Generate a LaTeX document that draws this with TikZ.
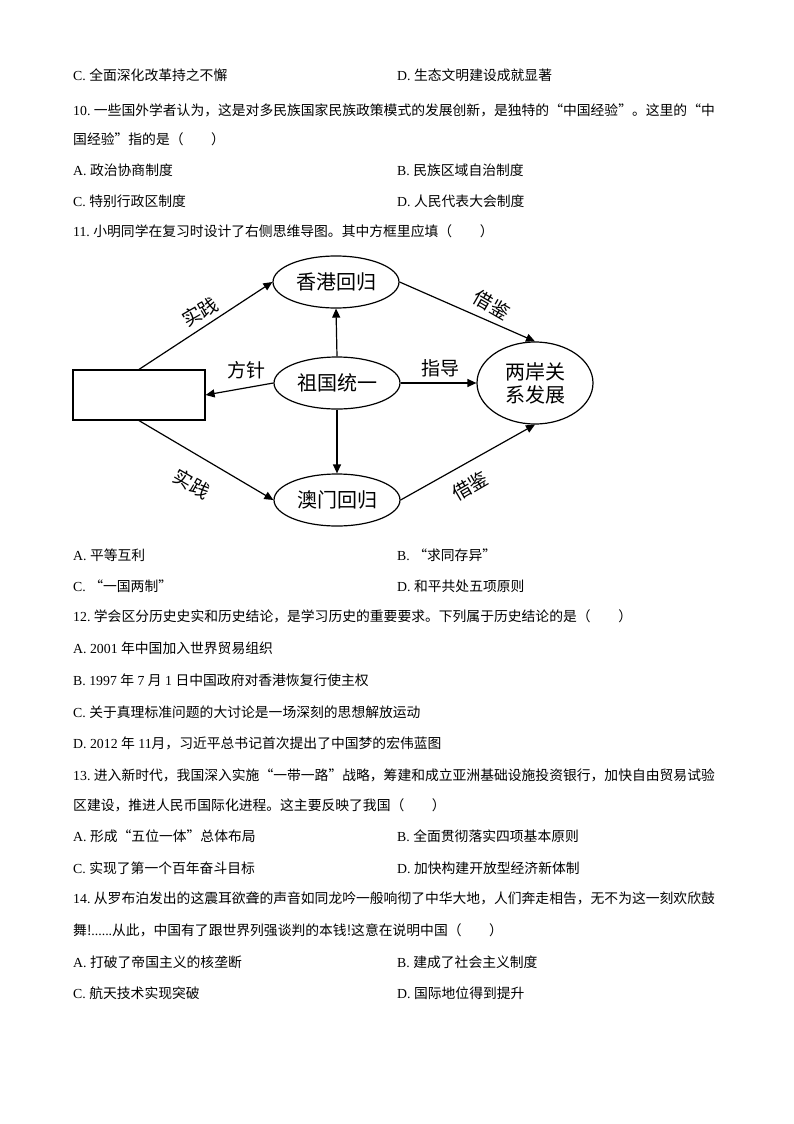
\documentclass[tikz,border=0pt]{standalone}
\usepackage{fontspec}
\setmainfont{Liberation Serif}
\newfontfamily\cjk{Noto Sans CJK SC}
\usetikzlibrary{shapes.geometric,arrows.meta}
\begin{document}
\begin{tikzpicture}[x=1pt,y=-1pt,
  txt/.style={anchor=west,inner sep=0pt,font=\fontsize{13.8}{15}\selectfont},
  el/.style={draw,ellipse,line width=1.2pt,minimum width=126pt,minimum height=52pt,inner sep=0pt,font=\cjk\fontsize{20}{23}\selectfont},
  lab/.style={font=\cjk\fontsize{19}{20}\selectfont,inner sep=0pt},
  arr/.style={-{Triangle[length=9pt,width=8pt]},line width=1.2pt}]
\useasboundingbox (0,0) rectangle (794,1124);
\fill[white] (0,0) rectangle (794,1124);
\node[txt] (t1) at (73,75) {C.\ {\cjk 全面深化改革持之不懈}};
\node[txt] (t1b) at (397,75) {D.\ {\cjk 生态文明建设成就显著}};
\node[txt] (t2) at (73,110) {10.\ {\cjk 一些国外学者认为，这是对多民族国家民族政策模式的发展创新，是独特的“中国经验”。这里的“中}};
\node[txt] (t3) at (73,139) {\cjk 国经验”指的是（\hspace{2em}）};
\node[txt] (t4) at (73,170) {A.\ {\cjk 政治协商制度}};
\node[txt] (t4b) at (397,170) {B.\ {\cjk 民族区域自治制度}};
\node[txt] (t5) at (73,201) {C.\ {\cjk 特别行政区制度}};
\node[txt] (t5b) at (397,201) {D.\ {\cjk 人民代表大会制度}};
\node[txt] (t6) at (73,231) {11.\ {\cjk 小明同学在复习时设计了右侧思维导图。其中方框里应填（\hspace{2em}）}};
% diagram
\node[el] (hk) at (336,282) {香港回归};
\node[el] (zg) at (337,383) {祖国统一};
\node[el] (am) at (337,500) {澳门回归};
\node[el,minimum width=116pt,minimum height=82pt,align=center] (la) at (535,383) {两岸关\\系发展};
\node[draw,line width=1.2pt,minimum width=132pt,minimum height=50pt] (bx) at (139,395) {};
\draw[arr] (bx.north) -- (hk.west);
\draw[arr] (hk.east) -- (la.north);
\draw[arr] (zg.north) -- (hk.south);
\draw[arr] (zg.west) -- (bx.east);
\draw[arr] (zg.east) -- (la.west);
\draw[arr] (zg.south) -- (am.north);
\draw[arr] (bx.south) -- (am.west);
\draw[arr] (am.east) -- (la.south);
\node[lab,rotate=30] (l1) at (200,312) {实践};
\node[lab,rotate=-30] (l2) at (492,305) {借鉴};
\node[lab] (l3) at (246,370) {方针};
\node[lab] (l4) at (440,368) {指导};
\node[lab,rotate=-30] (l5) at (192,484) {实践};
\node[lab,rotate=30] (l6) at (470,486) {借鉴};
% rest
\node[txt] (a1) at (73,555) {A.\ {\cjk 平等互利}};
\node[txt] (a1b) at (397,555) {B.\ {\cjk “求同存异”}};
\node[txt] (a2) at (73,586) {C.\ {\cjk “一国两制”}};
\node[txt] (a2b) at (397,586) {D.\ {\cjk 和平共处五项原则}};
\node[txt] (a3) at (73,616) {12.\ {\cjk 学会区分历史史实和历史结论，是学习历史的重要要求。下列属于历史结论的是（\hspace{2em}）}};
\node[txt] (a4) at (73,648) {A.\ 2001 {\cjk 年中国加入世界贸易组织}};
\node[txt] (a5) at (73,680) {B.\ 1997 {\cjk 年} 7 {\cjk 月} 1 {\cjk 日中国政府对香港恢复行使主权}};
\node[txt] (a6) at (73,712) {C.\ {\cjk 关于真理标准问题的大讨论是一场深刻的思想解放运动}};
\node[txt] (a7) at (73,743) {D.\ 2012 {\cjk 年} 11{\cjk 月，习近平总书记首次提出了中国梦的宏伟蓝图}};
\node[txt] (a8) at (73,775) {13.\ {\cjk 进入新时代，我国深入实施“一带一路”战略，筹建和成立亚洲基础设施投资银行，加快自由贸易试验}};
\node[txt] (a9) at (73,805) {\cjk 区建设，推进人民币国际化进程。这主要反映了我国（\hspace{2em}）};
\node[txt] (a10) at (73,836) {A.\ {\cjk 形成“五位一体”总体布局}};
\node[txt] (a10b) at (397,836) {B.\ {\cjk 全面贯彻落实四项基本原则}};
\node[txt] (a11) at (73,868) {C.\ {\cjk 实现了第一个百年奋斗目标}};
\node[txt] (a11b) at (397,868) {D.\ {\cjk 加快构建开放型经济新体制}};
\node[txt] (a12) at (73,898) {14.\ {\cjk 从罗布泊发出的这震耳欲聋的声音如同龙吟一般响彻了中华大地，人们奔走相告，无不为这一刻欢欣鼓}};
\node[txt] (a13) at (73,930) {{\cjk 舞!}......{\cjk 从此，中国有了跟世界列强谈判的本钱!这意在说明中国（\hspace{2em}）}};
\node[txt] (a14) at (73,962) {A.\ {\cjk 打破了帝国主义的核垄断}};
\node[txt] (a14b) at (397,962) {B.\ {\cjk 建成了社会主义制度}};
\node[txt] (a15) at (73,993) {C.\ {\cjk 航天技术实现突破}};
\node[txt] (a15b) at (397,993) {D.\ {\cjk 国际地位得到提升}};
\end{tikzpicture}
\end{document}
